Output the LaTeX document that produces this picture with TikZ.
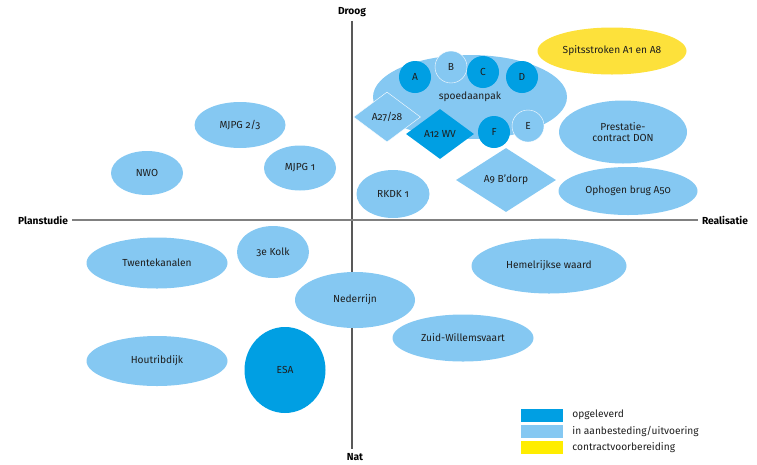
\documentclass[tikz,border=0pt]{standalone}
\usepackage{fontspec}
\setmainfont{Fira Sans}[Numbers=OldStyle]
\usetikzlibrary{shapes.geometric, positioning}
\usepackage{xcolor}

\definecolor{done}{HTML}{009FE3}
\definecolor{busy}{HTML}{85C8F2}
\definecolor{prep}{HTML}{FDE13B}
\definecolor{keyyellow}{HTML}{FFED00}
\definecolor{ink}{HTML}{1E1E1E}

\begin{document}
\begin{tikzpicture}[
    x=1pt, y=-1pt,
    every node/.style={font=\fontsize{10.2}{11.5}\selectfont, text=ink},
    bubble/.style={ellipse, fill=busy, inner sep=0pt, align=center},
    dot/.style={circle, minimum size=32pt, inner sep=0pt},
    rhomb/.style={diamond, inner sep=0pt},
    axislabel/.style={font=\fontsize{10.2}{11.5}\selectfont\bfseries, text=black, inner sep=2pt},
    axisline/.style={draw=black!50, line width=1.6pt},
    keybox/.style={rectangle, minimum width=42pt, minimum height=13pt, inner sep=0pt}
]
    \useasboundingbox (0,0) rectangle (757,464);

    \node[axislabel] (droog) at (352,12) {Droog};
    \node[axislabel] (nat) at (355,457) {Nat};
    \node[axislabel] (plan) at (43,220) {Planstudie};
    \node[axislabel] (real) at (725,220) {Realisatie};
    \draw[axisline, draw=black!65, line width=1.2pt, shorten <=2pt, shorten >=2pt] (droog) -- (droog |- nat.north);
    \draw[axisline, shorten <=2pt, shorten >=2pt] (plan) -- (real);

    \node[bubble, fill=prep, minimum width=149pt, minimum height=47pt] (spits) at (612,51) {Spitsstroken A1 en A8};
    \node[bubble, minimum width=194pt, minimum height=84pt] (spoed) at (470,97) {spoedaanpak};
    \node[dot, fill=done] (a) at (415,77) {A};
    \node[dot, fill=busy, draw=white, thin] (b) at (451,67) {B};
    \node[dot, fill=done] (c) at (483,72) {C};
    \node[dot, fill=done] (d) at (522,77) {D};
    \node[dot, fill=busy, draw=white, thin] (e) at (528,126) {E};
    \node[dot, fill=done] (f) at (494,132) {F};
    \node[rhomb, fill=busy, draw=white, thin, minimum width=67pt, minimum height=50pt] (a2728) at (387,117) {A27/28};
    \node[rhomb, fill=done, minimum width=68pt, minimum height=50pt] (a12) at (440,134) {A12 WV};
    \node[rhomb, fill=busy, minimum width=100pt, minimum height=64pt] (a9) at (506,180) {A9 B'dorp};

    \node[bubble, minimum width=73pt, minimum height=48pt] (rkdk) at (393,194) {RKDK 1};
    \node[bubble, minimum width=128pt, minimum height=63pt] (don) at (623,132) {Prestatie-\\contract DON};
    \node[bubble, minimum width=139pt, minimum height=48pt] (brug) at (628,191) {Ophogen brug A50};
    \node[bubble, minimum width=91pt, minimum height=46pt] (mjpg23) at (240,125) {MJPG 2/3};
    \node[bubble, minimum width=72pt, minimum height=44pt] (nwo) at (147,173) {NWO};
    \node[bubble, minimum width=72pt, minimum height=45pt] (mjpg1) at (300,168) {MJPG 1};

    \node[bubble, minimum width=141pt, minimum height=51pt] (twente) at (157,263) {Twentekanalen};
    \node[bubble, minimum width=72pt, minimum height=52pt] (kolk) at (273,252) {3e Kolk};
    \node[bubble, minimum width=120pt, minimum height=56pt] (nederrijn) at (355,300) {Nederrijn};
    \node[bubble, minimum width=155pt, minimum height=55pt] (hemel) at (549,266) {Hemelrijkse waard};
    \node[bubble, minimum width=141pt, minimum height=47pt] (zuid) at (463,338) {Zuid-Willemsvaart};
    \node[bubble, minimum width=141pt, minimum height=50pt] (houtrib) at (157,361) {Houtribdijk};
    \node[bubble, fill=done, minimum width=81pt, minimum height=86pt] (esa) at (285,370) {ESA};

    \node[keybox, fill=done] (keydone) at (542,415) {};
    \node[keybox, fill=busy, below=3pt of keydone] (keybusy) {};
    \node[keybox, fill=keyyellow, below=3pt of keybusy] (keyprep) {};
    \node[right=7pt of keydone, inner sep=2pt] (txtdone) {opgeleverd};
    \node[right=7pt of keybusy, inner sep=2pt] (txtbusy) {in aanbesteding/uitvoering};
    \node[right=7pt of keyprep, inner sep=2pt] (txtprep) {contractvoorbereiding};
\end{tikzpicture}
\end{document}
